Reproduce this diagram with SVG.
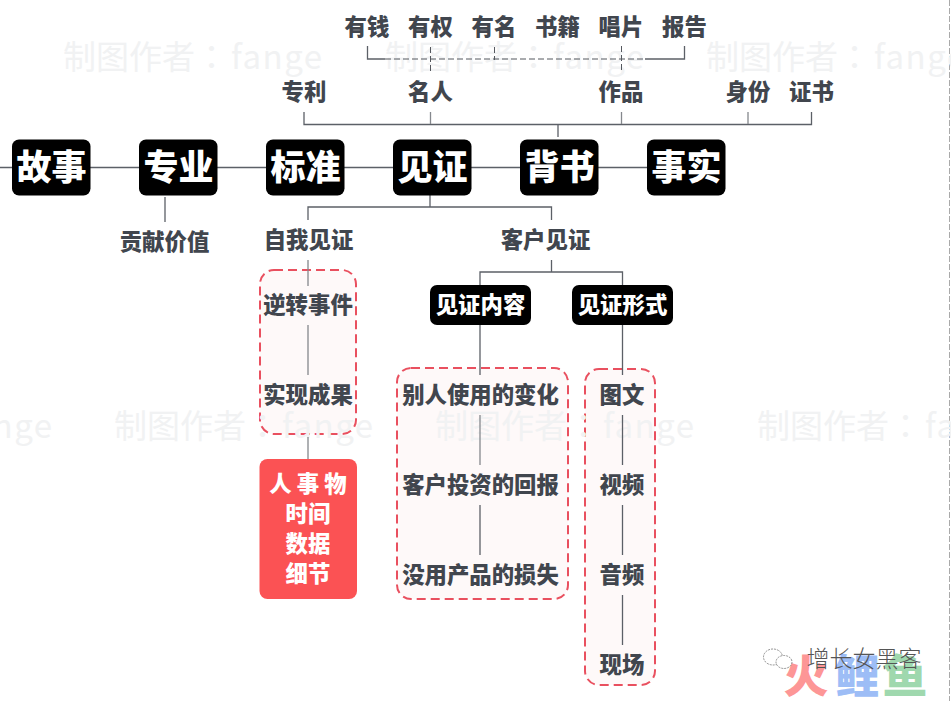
<svg xmlns="http://www.w3.org/2000/svg" width="951" height="701" viewBox="0 0 951 701">
<style>
text{font-family:"Noto Sans CJK SC","Noto Sans",sans-serif;text-anchor:middle}
.wm{font-family:"Noto Sans CJK JP","Noto Sans",sans-serif;font-size:33px;fill:#f1f2f3;text-anchor:start}
.wm tspan{letter-spacing:1.5px}
.lb{font-size:22.4px;font-weight:900;fill:#41464e}
.top{font-size:35px;font-weight:900;fill:#fff}
.sub{font-size:22.4px;font-weight:900;fill:#fff}
.dark{fill:#000}
.dash{fill:#fef9f9;stroke:#e9505f;stroke-width:2;stroke-dasharray:9 5}
.c{fill:none;stroke:#5c6067;stroke-width:1.3}
.l{fill:none;stroke:#85888d;stroke-width:1.3}
.d{fill:none;stroke:#55585e;stroke-width:1;stroke-dasharray:6 3}
.wx{fill:#fff;stroke:#777;stroke-width:.8;stroke-dasharray:2 1}
</style>
<rect width="951" height="701" fill="#fff"/>
<g id="frame"><path d="M949.5 0V701" fill="none" stroke="#aaa" stroke-width="1" stroke-dasharray="6 2"/></g>
<g id="dash-boxes">
<rect class="dash" x="260" y="270" width="96" height="164" rx="14"/>
<rect class="dash" x="397" y="368" width="171" height="231" rx="14"/>
<rect class="dash" x="585" y="369" width="70" height="316" rx="14"/>
</g>
<g id="watermarks">
<text class="wm" x="63" y="69">制图作者：<tspan dx="3">fange</tspan></text>
<text class="wm" x="385" y="69">制图作者：<tspan dx="3">fange</tspan></text>
<text class="wm" x="706" y="69">制图作者：<tspan dx="3">fange</tspan></text>
<text class="wm" x="-207" y="438">制图作者：<tspan dx="3">fange</tspan></text>
<text class="wm" x="114" y="438">制图作者：<tspan dx="3">fange</tspan></text>
<text class="wm" x="435" y="438">制图作者：<tspan dx="3">fange</tspan></text>
<text class="wm" x="757" y="438">制图作者：<tspan dx="3">fange</tspan></text>
</g>
<g id="connectors">
<path class="c" d="M0 167.5H12M90 167.5H139M217 167.5H266M344 167.5H393M471 167.5H520M598 167.5H647"/>
<path class="c" d="M367.5 46V59H385M645 59H684.5V46"/>
<path class="d" d="M385 59H645M430.5 47V72M494.5 47V60M621.5 46V72"/>
<path class="c" d="M304 112V124.5H811.5V112M558 124.5V137"/>
<path class="l" d="M430.5 112V124M621.5 112V124M748 112V124"/>
<path class="c" d="M165 197V222M430 195V207M308 220V207H551.5V220"/>
<path class="l" d="M308 260V286M308 325V375M308 437V459"/>
<path class="c" d="M551.5 260V272M480 285V272H622.5V285"/>
<path class="c" d="M480 325V375M622.5 325V375M622.5 415V465M622.5 505V555M622.5 595V645"/>
<path class="l" d="M480 415V465"/>
<path class="c" d="M480 505V555"/>
</g>
<g id="n-gushi"><rect class="dark" x="12" y="139.5" width="78.5" height="56" rx="7"/><text class="top" x="51.5" y="180">故事</text></g>
<g id="n-zhuanye"><rect class="dark" x="139" y="139.5" width="78.5" height="56" rx="7"/><text class="top" x="178.5" y="180">专业</text></g>
<g id="n-biaozhun"><rect class="dark" x="266" y="139.5" width="78.5" height="56" rx="7"/><text class="top" x="305.5" y="180">标准</text></g>
<g id="n-jianzheng"><rect class="dark" x="393" y="139.5" width="78.5" height="56" rx="7"/><text class="top" x="432.5" y="180">见证</text></g>
<g id="n-beishu"><rect class="dark" x="520" y="139.5" width="78.5" height="56" rx="7"/><text class="top" x="559.5" y="180">背书</text></g>
<g id="n-shishi"><rect class="dark" x="647" y="139.5" width="78.5" height="56" rx="7"/><text class="top" x="686.5" y="180">事实</text></g>
<g id="n-top"><text class="lb" x="367" y="35">有钱</text><text class="lb" x="430.5" y="35">有权</text><text class="lb" x="494" y="35">有名</text><text class="lb" x="557.5" y="35">书籍</text><text class="lb" x="621" y="35">唱片</text><text class="lb" x="684.5" y="35">报告</text></g>
<g id="n-mid"><text class="lb" x="304" y="100">专利</text><text class="lb" x="430.5" y="100">名人</text><text class="lb" x="621" y="100">作品</text><text class="lb" x="748" y="100">身份</text><text class="lb" x="811.5" y="100">证书</text></g>
<g id="n-gongxian"><text class="lb" x="164.5" y="250">贡献价值</text></g>
<g id="n-ziwo"><text class="lb" x="308.5" y="248">自我见证</text></g>
<g id="n-kehu"><text class="lb" x="545.5" y="248">客户见证</text></g>
<g id="n-nizhuan"><text class="lb" x="308" y="313">逆转事件</text></g>
<g id="n-chengguo"><text class="lb" x="308" y="403">实现成果</text></g>
<g id="n-red"><rect x="259.5" y="459" width="97.5" height="140" rx="8" fill="#fb5254"/>
<text class="sub" x="308" y="492">人 事 物</text><text class="sub" x="308" y="522">时间</text><text class="sub" x="308" y="552">数据</text><text class="sub" x="308" y="582">细节</text></g>
<g id="n-neirong"><rect class="dark" x="430" y="285" width="101" height="40" rx="7"/><text class="sub" x="480.5" y="313">见证内容</text></g>
<g id="n-xingshi"><rect class="dark" x="572" y="285" width="101" height="40" rx="7"/><text class="sub" x="622.5" y="313">见证形式</text></g>
<g id="n-content"><text class="lb" x="480.5" y="403">别人使用的变化</text><text class="lb" x="480.5" y="493">客户投资的回报</text><text class="lb" x="480.5" y="583">没用产品的损失</text></g>
<g id="n-form"><text class="lb" x="622" y="403">图文</text><text class="lb" x="622" y="493">视频</text><text class="lb" x="622" y="583">音频</text><text class="lb" x="622" y="673">现场</text></g>
<g id="logo">
<text x="806" y="693" font-size="45" font-weight="900" fill="#fd9696">火</text>
<text x="857" y="693" font-size="45" font-weight="900" fill="#9dbdf6">鲤</text>
<text x="905" y="693" font-size="45" font-weight="900" fill="#9fd8ae">鱼</text>
<ellipse class="wx" cx="773" cy="657" rx="9.5" ry="8"/>
<ellipse class="wx" cx="784" cy="662" rx="8" ry="6.5"/>
<text x="864" y="667" font-size="23" font-weight="300" fill="#555">增长女黑客</text>
</g>
</svg>
